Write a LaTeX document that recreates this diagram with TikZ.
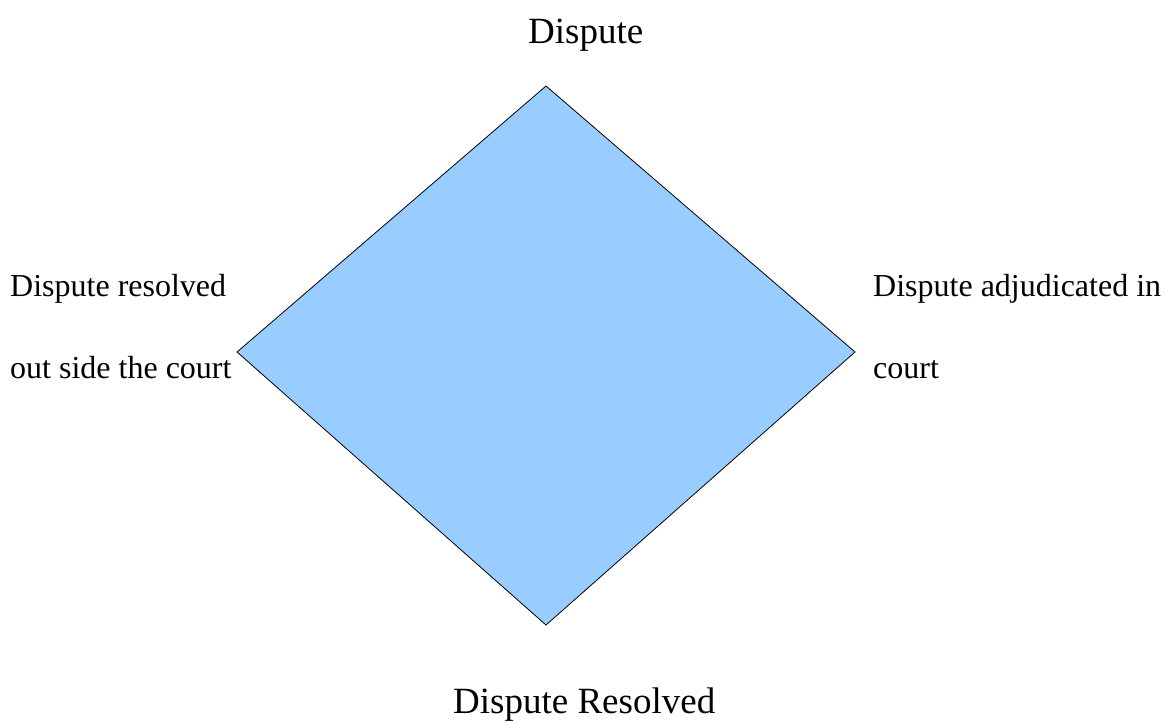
\documentclass[tikz,border=0pt]{standalone}
\usepackage{fontspec}
\setmainfont{Liberation Serif}
\definecolor{diamondfill}{HTML}{99CCFF}
\begin{document}
\begin{tikzpicture}[x=1pt,y=1pt,
  bigtext/.style={inner sep=0pt,anchor=base west,font=\fontsize{37}{40}\selectfont},
  smalltext/.style={inner sep=0pt,anchor=base west,font=\fontsize{32}{36}\selectfont}]
\useasboundingbox (0,0) rectangle (1169,-720);
\coordinate (T) at (546,-86);
\coordinate (L) at (237,-352);
\coordinate (R) at (855,-352);
\coordinate (B) at (546,-625);
\draw[fill=diamondfill,line width=0.8pt,line join=miter] (T) -- (R) -- (B) -- (L) -- cycle;
\node[bigtext] (top) at (528,-43) {Dispute};
\node[bigtext] (bottom) at (453,-713) {Dispute Resolved};
\node[smalltext] (l1) at (10,-296) {Dispute resolved};
\node[smalltext] (l2) at (10,-378) {out side the court};
\node[smalltext] (r1) at (873,-296) {Dispute adjudicated in};
\node[smalltext] (r2) at (873,-378) {court};
\end{tikzpicture}
\end{document}
